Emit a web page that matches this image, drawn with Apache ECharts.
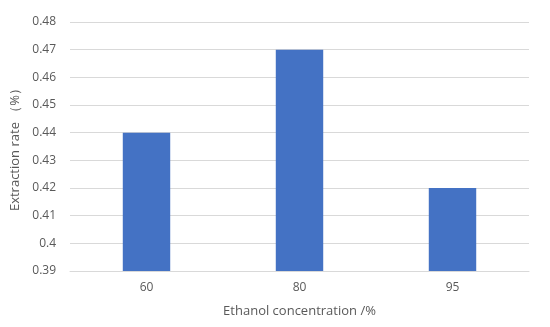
<!DOCTYPE html>
<html><head><meta charset="utf-8">
<script src="https://cdn.jsdelivr.net/npm/echarts@6/dist/echarts.min.js"></script>
<style>html,body{margin:0;padding:0;background:#fff}#c{width:550px;height:327px}</style>
</head><body><div id="c"></div>
<script>
const categories = ['60', '80', '95'];
const values = [0.44, 0.47, 0.42];
const yTicks = {min: 0.39, max: 0.48, interval: 0.01};
const chart = echarts.init(document.getElementById('c'), null, {renderer: 'canvas'});
const font = '"Open Sans", "Noto Sans", sans-serif';
chart.setOption({
  animation: false,
  grid: {left: 70, right: 21, top: 22, bottom: 56},
  xAxis: {
    type: 'category', data: categories,
    name: 'Ethanol concentration /%', nameLocation: 'middle', nameGap: 34,
    nameTextStyle: {color: '#595959', fontSize: 13, fontFamily: font},
    axisLine: {lineStyle: {color: '#d9d9d9'}},
    axisTick: {show: false},
    axisLabel: {color: '#595959', fontSize: 12, fontFamily: font, margin: 11}
  },
  yAxis: {
    type: 'value', min: yTicks.min, max: yTicks.max, interval: yTicks.interval,
    name: 'Extraction rate （%）', nameLocation: 'middle', nameGap: 46,
    nameTextStyle: {color: '#595959', fontSize: 13, fontFamily: font},
    axisLine: {show: false}, axisTick: {show: false},
    splitLine: {lineStyle: {color: '#d9d9d9'}},
    axisLabel: {color: '#595959', fontSize: 12, fontFamily: font, margin: 14,
      formatter: v => String(Math.round(v * 100) / 100)}
  },
  series: [{
    type: 'bar', data: values, barWidth: '31%',
    itemStyle: {color: '#4472C4'}
  }]
});
</script></body></html>
